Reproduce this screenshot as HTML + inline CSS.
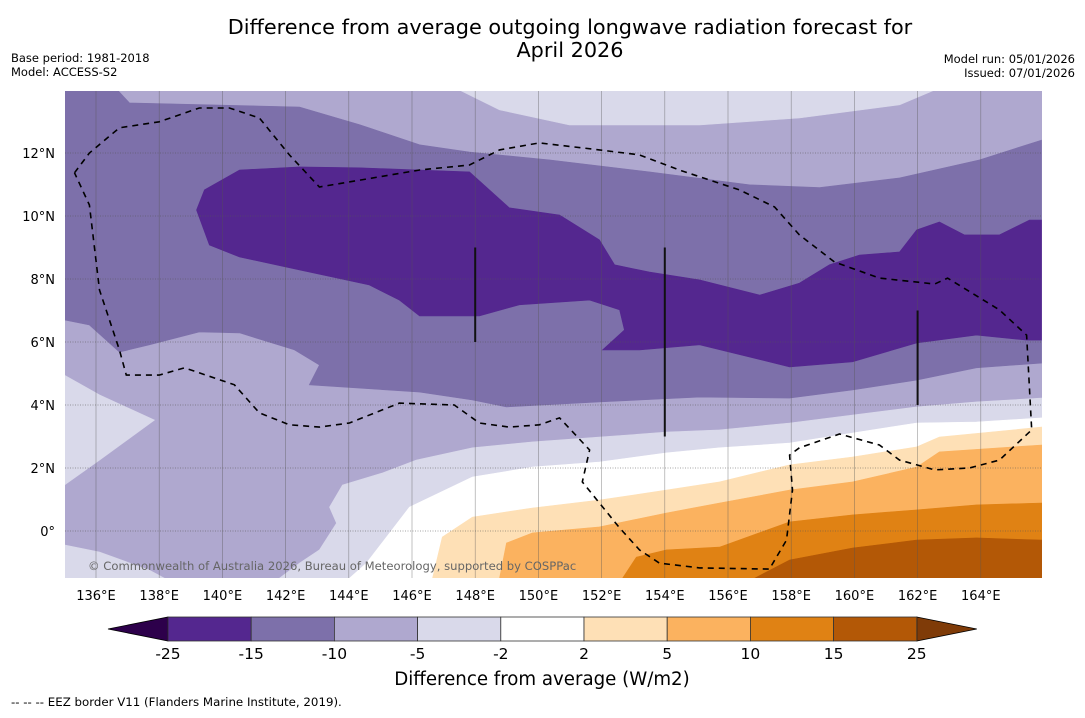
<!DOCTYPE html>
<html><head><meta charset="utf-8">
<style>
html,body{margin:0;padding:0;background:#fff;}
body{width:1085px;height:713px;overflow:hidden;font-family:"Liberation Sans","DejaVu Sans",sans-serif;}
svg text{font-family:"DejaVu Sans","Liberation Sans",sans-serif;}
</style></head>
<body>
<svg id="chart" width="1085" height="713" viewBox="0 0 1085 713" xmlns="http://www.w3.org/2000/svg">
<text x="570" y="34" font-size="20.8" text-anchor="middle" fill="#000">Difference from average outgoing longwave radiation forecast for</text>
<text x="570" y="57" font-size="20.8" text-anchor="middle" fill="#000">April 2026</text>
<text x="11" y="62" font-size="11.5">Base period: 1981-2018</text>
<text x="11" y="76" font-size="11.5">Model: ACCESS-S2</text>
<text x="1075" y="63" font-size="11.5" text-anchor="end">Model run: 05/01/2026</text>
<text x="1075" y="77" font-size="11.5" text-anchor="end">Issued: 07/01/2026</text>
<defs><clipPath id="mapclip"><rect x="65" y="91" width="977" height="487"/></clipPath></defs>
<g id="map" clip-path="url(#mapclip)"></g>
<g id="axes"></g>
<g id="cbar"></g>
<text x="542" y="685" font-size="18.2" text-anchor="middle">Difference from average (W/m2)</text>
<text x="11" y="706" font-size="11.8">--  --  -- EEZ border V11 (Flanders Marine Institute, 2019).</text>
</svg>
<script>
const lonTicks = [136,138,140,142,144,146,148,150,152,154,156,158,160,162,164];
const latTicks = [0,2,4,6,8,10,12];
const levels = [-25,-15,-10,-5,-2,2,5,10,15,25];
const levelColors = ["#54278f","#7d70aa","#afa8cf","#d9d9ea","#ffffff","#fee0b6","#fbb25f","#e08214","#b35806"];
const extColors = ["#2d004b","#7f3b08"];
const layerLevel = [-10,-15,-25,-5,-5,-5,-5,-2,2,5,10,15];
const layerShapes = [
"135,14 166,14 166,-1.5 135,-1.5",
"135,14 136.68,14 137.06,13.59 142.44,13.46 144.34,12.9 146.24,12.26 147.82,12.03 150.35,11.78 153.52,11.4 156.68,10.99 158.9,10.9 161.43,11.21 163.96,11.78 165.92,12.41 165.92,5.33 163.86,5.18 161.97,4.79 159.94,4.48 157.95,4.22 155.1,4.25 151.93,4.1 148.99,3.94 147.91,4.16 146.24,4.41 142.75,4.64 143.07,5.27 142.28,5.75 140.54,6.29 139.27,6.32 137.69,5.91 136.74,5.68 135.79,6.54 135,6.7",
"139.43,10.83 140.54,11.46 142.44,11.56 144.34,11.53 147.82,11.4 149.08,10.26 150.67,10.03 151.93,9.24 152.41,8.45 153.52,8.22 155.1,7.97 157,7.49 158.26,7.87 159.21,8.45 160.16,8.76 161.43,8.86 161.97,9.56 162.69,9.81 163.48,9.4 164.59,9.4 165.54,9.87 165.92,9.87 165.92,6.06 165.45,6.06 163.86,6.22 161.97,5.97 159.94,5.37 157.95,5.21 155.1,5.91 153.2,5.75 152.03,5.75 152.72,6.38 152.57,7.02 151.62,7.33 149.4,7.18 148.13,6.83 146.24,6.83 145.6,7.33 144.65,7.81 142.44,8.29 140.54,8.7 139.59,9.08 139.18,10.19",
"147.5,14 148.77,13.37 150.98,12.89 155.1,12.89 158.26,13.11 161.43,13.53 162.54,14",
"135,4.95 136.11,4.32 137.85,3.52 136.11,2.25 135,1.46",
"135,-0.44 136.11,-0.67 137.69,-1.24 138.17,-1.5 135,-1.5",
"141.8,-1.5 142.44,-1.02 143.07,-0.6 143.61,0.25 143.39,0.76 143.8,1.46 145.06,1.84 146.14,2.25 147.91,2.64 149.81,2.83 151.93,2.98 154.05,3.14 155.73,3.21 157.95,3.43 159.94,3.68 161.97,3.94 163.86,4.1 165.92,4.22 166,4.22 166,-1.5",
"144.02,-1.5 144.56,-1.02 145.92,0.76 147.91,1.71 149.81,2.03 151.93,2.19 154.05,2.48 155.73,2.64 157.95,2.79 159.94,3.11 161.97,3.43 163.86,3.46 165.92,3.59 166,3.59 166,-1.5",
"146.65,-1.5 146.96,-0.19 147.91,0.44 149.81,0.73 151.93,0.98 154.05,1.3 155.73,1.56 157.95,2.1 159.94,2.35 161.97,2.67 162.69,2.98 165.92,3.3 166,3.3 166,-1.5",
"148.77,-1.5 148.99,-0.38 149.81,-0.06 151.93,0.13 154.05,0.57 155.73,0.89 157.95,1.3 159.94,1.56 161.97,2.03 162.69,2.51 165.92,2.73 166,2.73 166,-1.5",
"152.66,-1.5 153.1,-0.83 154.05,-0.6 155.73,-0.51 157.95,0.29 159.94,0.51 161.97,0.67 163.86,0.83 165.92,0.89 166,0.89 166,-1.5",
"156.84,-1.5 157.95,-0.92 159.94,-0.54 161.97,-0.29 163.86,-0.22 165.92,-0.29 166,-0.29 166,-1.5"
];
const eezBorder = "135.32,11.37 135.79,12 136.74,12.8 138,12.99 139.27,13.43 140.22,13.43 141.17,13.11 142.12,11.94 143.07,10.92 146.24,11.46 147.82,11.62 148.77,12.1 150.03,12.32 151.93,12.1 153.2,11.94 154.46,11.46 156.36,10.83 157.47,10.29 158.26,9.4 159.37,8.54 160.79,8.03 162.54,7.84 162.95,8.03 164.59,7.02 165.45,6.22 165.61,3.21 164.59,2.25 163.64,2 162.54,1.94 161.43,2.25 160.79,2.73 159.53,3.08 158.26,2.64 157.95,2.41 158.04,1.3 157.85,-0.29 157.31,-1.21 155.1,-1.17 153.83,-1.02 153.2,-0.6 152.57,0.1 151.39,1.56 151.62,2.57 150.67,3.59 150.03,3.37 149.08,3.3 148.13,3.43 147.34,4 145.6,4.06 144.02,3.43 143.07,3.3 142.12,3.37 141.17,3.75 140.38,4.64 138.8,5.18 138,4.95 136.96,4.95 136.74,5.75 136.11,7.65 135.79,10.35 135.32,11.37";
const boundaryLon = [148,154,162];
const boundaryLat0 = [9,9,7];
const boundaryLat1 = [6,3,4];

const NS="http://www.w3.org/2000/svg";
const X = lon => 96 + (lon-136)*31.6;
const Y = lat => 531 - lat*31.5;
function mk(tag, attrs, parent){const e=document.createElementNS(NS,tag);for(const k in attrs)e.setAttribute(k,attrs[k]);parent.appendChild(e);return e;}
function pts(s){return s.split(" ").map(p=>{const [a,b]=p.split(",").map(Number);return X(a).toFixed(1)+","+Y(b).toFixed(1);}).join(" ");}
const map=document.getElementById("map");
layerShapes.forEach((s,i)=>{
  const c = levelColors[levels.indexOf(layerLevel[i])];
  const p=mk("polygon",{points:pts(s),fill:c,stroke:c,"stroke-width":"0.6"},map);
  
  
});
lonTicks.forEach(l=>{
  const g=mk("line",{x1:X(l),x2:X(l),y1:91,y2:578,stroke:"#555","stroke-width":"0.6","stroke-opacity":"0.6"},map);
  
  
});
latTicks.forEach(l=>{
  const g=mk("line",{x1:65,x2:1042,y1:Y(l),y2:Y(l),stroke:"#555","stroke-width":"0.8","stroke-dasharray":"1,1.5","stroke-opacity":"0.7"},map);
  
  
});
boundaryLon.forEach((l,i)=>{
  const b=mk("line",{x1:X(l),x2:X(l),y1:Y(boundaryLat0[i]),y2:Y(boundaryLat1[i]),stroke:"#111","stroke-width":"2"},map);
  
  
});
const eez=mk("polyline",{points:pts(eezBorder),fill:"none",stroke:"#000","stroke-width":"1.6","stroke-dasharray":"6,5"},map);


const wm=mk("text",{x:88,y:570,"font-size":"11.6",fill:"#666"},map);
wm.textContent="© Commonwealth of Australia 2026, Bureau of Meteorology, supported by COSPPac";



const axes=document.getElementById("axes");
lonTicks.forEach(l=>{
  const t=mk("text",{x:X(l),y:600,"font-size":"13","text-anchor":"middle"},axes);
  t.textContent=l+"°E";
  
  
});
latTicks.forEach(l=>{
  const t=mk("text",{x:55,y:Y(l)+5,"font-size":"13","text-anchor":"end"},axes);
  t.textContent=l===0?"0°":l+"°N";
  
  
});

const cb=document.getElementById("cbar");
const cx0=168, cw=83.2, cy=617, ch=24;
const lt=mk("polygon",{points:`108,${cy+ch/2} ${cx0},${cy} ${cx0},${cy+ch}`,fill:extColors[0],stroke:"#000","stroke-width":"0.8"},cb);


const xe=cx0+cw*levelColors.length;
const rt=mk("polygon",{points:`${xe},${cy} ${xe+60},${cy+ch/2} ${xe},${cy+ch}`,fill:extColors[1],stroke:"#000","stroke-width":"0.8"},cb);


levelColors.forEach((c,i)=>{
  const r=mk("rect",{x:cx0+cw*i,y:cy,width:cw,height:ch,fill:c,stroke:"#333","stroke-width":"0.8"},cb);
  
  
});
levels.forEach((v,i)=>{
  const t=mk("text",{x:cx0+cw*i,y:659,"font-size":"15.5","text-anchor":"middle"},cb);
  t.textContent=v;
  
  
});
</script>
</body></html>
